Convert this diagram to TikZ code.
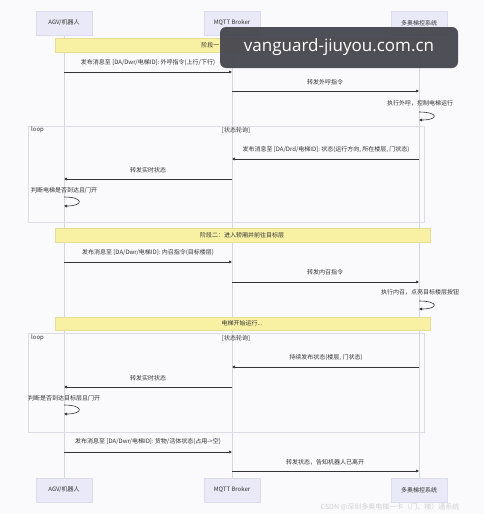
\documentclass[tikz,border=0pt]{standalone}
\usepackage{fontspec}
\setmainfont{Noto Sans CJK SC}
\newfontfamily\wmfont{Open Sans}
\usetikzlibrary{arrows.meta}
\definecolor{bgc}{HTML}{FAFAFC}
\definecolor{actfill}{HTML}{E9E9F7}
\definecolor{actdraw}{HTML}{DCDCEE}
\definecolor{notefill}{HTML}{F8F1A4}
\definecolor{notedraw}{HTML}{E6DD95}
\definecolor{txt}{HTML}{333333}
\definecolor{lifec}{HTML}{D6D6E0}
\definecolor{loopc}{HTML}{DCDCE4}
\definecolor{wmc}{HTML}{46464F}
\tikzset{
  actor/.style={draw=actdraw, fill=actfill, minimum width=56pt, minimum height=24pt, inner sep=0pt, text=txt},
  life/.style={draw=lifec, line width=0.6pt},
  msgline/.style={draw=txt, line width=0.6pt, -{Triangle[length=3pt,width=2.6pt]}},
  lbl/.style={text=txt, inner sep=0pt},
  notebar/.style={draw=notedraw, fill=notefill, line width=0.4pt},
  loopbox/.style={draw=loopc, line width=0.5pt},
}
\begin{document}
\begin{tikzpicture}[x=1pt,y=-1pt, font=\fontsize{6}{7}\selectfont]
\useasboundingbox (0,0) rectangle (484,514);
\fill[bgc] (0,0) rectangle (484,514);
% participants
\node[actor] (a1) at (64,23) {AGV/机器人};
\node[actor] (b1) at (232,23) {MQTT Broker};
\node[actor] (c1) at (419,23) {多奥梯控系统};
\node[actor] (a2) at (64,490) {AGV/机器人};
\node[actor] (b2) at (232,490) {MQTT Broker};
\node[actor] (c2) at (419,490) {多奥梯控系统};
\draw[life] (a1.south) -- (a2.north);
\draw[life] (b1.south) -- (b2.north);
\draw[life] (c1.south) -- (c2.north);
% loop boxes
\draw[loopbox] (28,126) rectangle (424,222);
\node[lbl, anchor=west] (l1) at (31,130) {loop};
\node[lbl] (l1c) at (236,130) {[状态轮询]};
\draw[loopbox] (28,333) rectangle (424,432);
\node[lbl, anchor=west] (l2) at (31,338) {loop};
\node[lbl] (l2c) at (236,338) {[状态轮询]};
% phase bars
\draw[notebar] (55,38) rectangle (430,52);
\node[lbl, anchor=east] (p1) at (219.5,45) {阶段一};
\draw[notebar] (55,228) rectangle (430,242);
\node[lbl] (p2) at (242,235) {阶段二：进入轿厢并前往目标层};
\draw[notebar] (55,317) rectangle (430,330);
\node[lbl] (p3) at (242,323.5) {电梯开始运行...};
% messages phase 1
\node[lbl] (t1) at (148,63) {发布消息至 [DA/Dwr/电梯ID]: 外呼指令(上行/下行)};
\draw[msgline] (a1 |- 0,72) -- (b1 |- 0,72);
\node[lbl] (t2) at (325,82) {转发外呼指令};
\draw[msgline] (b1 |- 0,91) -- (c1 |- 0,91);
\node[lbl] (t3) at (420,103) {执行外呼，控制电梯运行};
\draw[msgline] (c1 |- 0,112) .. controls +(20,0) and +(20,0) .. (c1 |- 0,120);
% loop 1
\node[lbl] (t4) at (326,150) {发布消息至 [DA/Drd/电梯ID]: 状态(运行方向, 所在楼层, 门状态)};
\draw[msgline] (c1 |- 0,159) -- (b1 |- 0,159);
\node[lbl] (t5) at (148,170) {转发实时状态};
\draw[msgline] (b1 |- 0,179) -- (a1 |- 0,179);
\node[lbl] (t6) at (64,190) {判断电梯是否到达且门开};
\draw[msgline] (a1 |- 0,197) .. controls +(20,0) and +(20,0) .. (a1 |- 0,206);
% phase 2
\node[lbl] (t7) at (148,253) {发布消息至 [DA/Dwr/电梯ID]: 内召指令(目标楼层)};
\draw[msgline] (a1 |- 0,262) -- (b1 |- 0,262);
\node[lbl] (t8) at (325,272) {转发内召指令};
\draw[msgline] (b1 |- 0,282) -- (c1 |- 0,282);
\node[lbl] (t9) at (420,292) {执行内召，点亮目标楼层按钮};
\draw[msgline] (c1 |- 0,301) .. controls +(20,0) and +(20,0) .. (c1 |- 0,309);
% loop 2
\node[lbl] (t10) at (326,358) {持续发布状态(楼层, 门状态)};
\draw[msgline] (c1 |- 0,367) -- (b1 |- 0,367);
\node[lbl] (t11) at (148,378) {转发实时状态};
\draw[msgline] (b1 |- 0,387) -- (a1 |- 0,387);
\node[lbl] (t12) at (64,398) {判断是否到达目标层且门开};
\draw[msgline] (a1 |- 0,405) .. controls +(20,0) and +(20,0) .. (a1 |- 0,414);
% leaving
\node[lbl] (t13) at (148,442) {发布消息至 [DA/Dwr/电梯ID]: 货物/活体状态(占用->空)};
\draw[msgline] (a1 |- 0,452) -- (b1 |- 0,452);
\node[lbl] (t14) at (325,462) {转发状态，告知机器人已离开};
\draw[msgline] (b1 |- 0,471) -- (c1 |- 0,471);
% watermarks
\node[fill=wmc, fill opacity=0.95, text opacity=1, text=white, rounded corners=6pt, minimum width=238pt, minimum height=41pt, inner sep=0pt, font=\wmfont\fontsize{17}{20}\selectfont] (wm) at (339,47.5) {vanguard-jiuyou.com.cn};
\node[text=black!18, inner sep=0pt, font=\fontsize{7}{8}\selectfont] (csdn) at (390,507) {CSDN @深圳多奥电梯一卡（门、梯）通系统};
\end{tikzpicture}
\end{document}
